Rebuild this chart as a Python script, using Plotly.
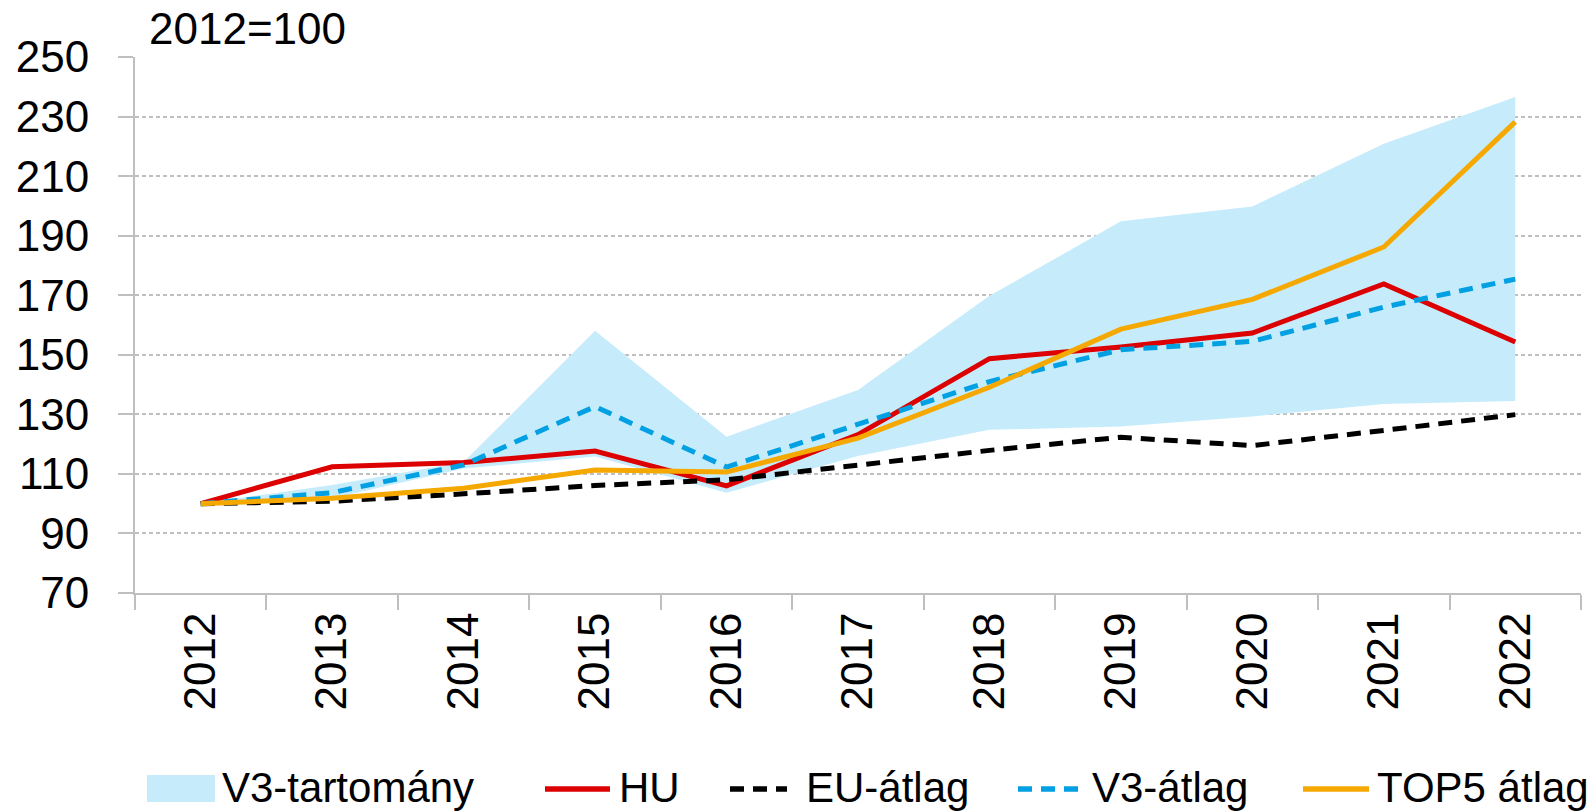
import plotly.graph_objects as go

years = ["2012", "2013", "2014", "2015", "2016", "2017", "2018", "2019", "2020", "2021", "2022"]
band_upper = [100, 106.3, 114, 158.1, 122.5, 138.2, 169.8, 194.8, 199.8, 220.9, 236.6]
band_lower = [100, 101.8, 111.8, 115.8, 103.7, 116.0, 124.8, 125.9, 129.3, 133.5, 134.5]
hu = [100, 112.4, 113.8, 117.7, 106.0, 123.2, 148.7, 152.6, 157.3, 173.8, 154.3]
eu = [100, 100.8, 103.3, 106.1, 108.0, 113.1, 117.9, 122.3, 119.5, 124.6, 129.9]
v3 = [100, 103.7, 113.0, 132.6, 112.3, 126.5, 141.0, 151.7, 154.5, 166.0, 175.4]
top5 = [100, 101.8, 105.2, 111.3, 110.6, 122.0, 139.1, 158.6, 168.6, 186.2, 228.2]

FONT = "Liberation Sans, Arial, sans-serif"
FS = 44
LFS = 42
C_BAND, C_HU, C_EU, C_V3, C_TOP5 = "#c6ecfc", "#dc0000", "#000000", "#00a0e3", "#f5a800"
DASH = "14px,9px"
LW = 5

# figure geometry (page body margin removed by post_script)
W, H = 1596, 811
L, R, T, B = 135, 15, 57, 218
PW, PH = W - L - R, H - T - B


def px(page_x):
    return (page_x - L) / PW


def py(page_y):
    return (H - B - page_y) / PH


fig = go.Figure()
fig.add_trace(go.Scatter(x=years, y=band_lower, mode="lines", line=dict(width=0, color="rgba(0,0,0,0)"),
                         showlegend=False, hoverinfo="skip"))
fig.add_trace(go.Scatter(x=years, y=band_upper, mode="lines", line=dict(width=0, color="rgba(0,0,0,0)"),
                         fill="tonexty", fillcolor=C_BAND, name="V3-tartomány", showlegend=False))
fig.add_trace(go.Scatter(x=years, y=hu, mode="lines", line=dict(color=C_HU, width=LW), name="HU",
                         showlegend=False))
fig.add_trace(go.Scatter(x=years, y=eu, mode="lines", line=dict(color=C_EU, width=LW, dash=DASH),
                         name="EU-átlag", showlegend=False))
fig.add_trace(go.Scatter(x=years, y=v3, mode="lines", line=dict(color=C_V3, width=LW, dash=DASH),
                         name="V3-átlag", showlegend=False))
fig.add_trace(go.Scatter(x=years, y=top5, mode="lines", line=dict(color=C_TOP5, width=LW),
                         name="TOP5 átlag", showlegend=False))

# custom legend (positions in page pixels)
LEG_Y = 789
shapes = [dict(type="rect", xref="paper", yref="paper", x0=px(147), x1=px(215), y0=py(775), y1=py(802),
               fillcolor=C_BAND, line=dict(width=0))]
legend_lines = [(542, 613, C_HU, "solid"), (727, 790, C_EU, "14px,9px"),
                (1015, 1082, C_V3, "14px,9px"), (1300, 1372, C_TOP5, "solid")]
for x0, x1, col, dash in legend_lines:
    shapes.append(dict(type="line", xref="paper", yref="paper", x0=px(x0 + 3), x1=px(x1 - 3),
                       y0=py(LEG_Y), y1=py(LEG_Y), line=dict(color=col, width=5.5, dash=dash)))
legend_texts = [(223, "V3-tartomány"), (620, "HU"), (807, "EU-átlag"), (1093, "V3-átlag"), (1378, "TOP5 átlag")]
annotations = [dict(text=t, xref="paper", yref="paper", x=px(x - 3), y=py(LEG_Y - 2), xanchor="left",
                    yanchor="middle", showarrow=False, font=dict(family=FONT, size=LFS))
               for x, t in legend_texts]
annotations.append(dict(text="2012=100", xref="paper", yref="paper", x=px(147), y=py(28.5), xanchor="left",
                        yanchor="middle", showarrow=False, font=dict(family=FONT, size=FS)))

fig.update_layout(
    width=W, height=H,
    margin=dict(l=L, r=R, t=T, b=B, autoexpand=False),
    paper_bgcolor="white", plot_bgcolor="white",
    font=dict(family=FONT, size=FS, color="black"),
    showlegend=False,
    shapes=shapes,
    annotations=annotations,
)
fig.update_xaxes(type="category", range=[-0.5, 10.5], tickangle=-90, ticks="outside", tickson="boundaries",
                 ticklen=15, tickcolor="#bfbfbf", tickwidth=2, showline=True, linecolor="#bfbfbf", linewidth=2,
                 showgrid=False, automargin=False, tickfont=dict(family=FONT, size=FS))
fig.update_yaxes(range=[70, 250], dtick=20, tick0=70, ticks="outside", ticklen=15, tickcolor="#bfbfbf", tickwidth=2,
                 showline=True, linecolor="#bfbfbf", linewidth=2, showgrid=True, gridcolor="#bfbfbf",
                 griddash="4px,3px", gridwidth=1.5, zeroline=False, automargin=False, ticklabelstandoff=20,
                 tickfont=dict(family=FONT, size=FS))

fig.write_html("out.html", config={"displayModeBar": False},
               post_script="document.body.style.margin='0px';")
